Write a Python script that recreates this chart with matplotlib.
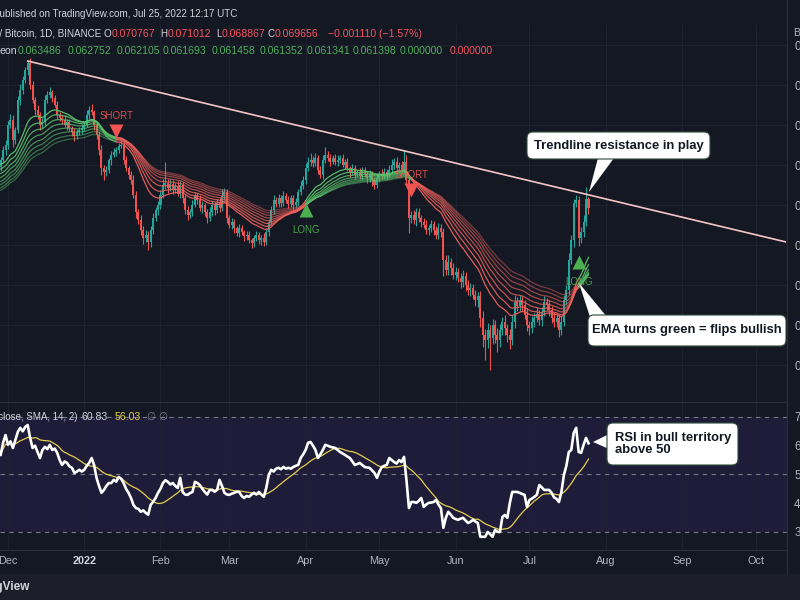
import matplotlib
matplotlib.use("Agg")
import matplotlib.pyplot as plt
import matplotlib.dates as mdates
from matplotlib.patches import FancyBboxPatch, Polygon, Rectangle
import numpy as np
import pandas as pd

plt.rcParams["font.family"] = ["Liberation Sans", "DejaVu Sans"]

# prices in mBTC, one daily candle per value starting FIRST_DAY
FIRST_DAY = "2021-11-28"
FIRST_OPEN = 74.8
CLOSES = [
    75.6, 76.9, 77.5, 80.0, 80.6, 78.1, 79.4, 83.1, 84.4, 85.6,
    86.9, 87.8, 85.0, 83.1, 81.9, 81.3, 80.0, 80.4, 83.1, 83.8,
    84.1, 83.4, 82.5, 81.3, 80.9, 80.6, 80.0, 80.4, 79.6, 79.1,
    78.6, 79.1, 79.4, 79.6, 80.0, 81.3, 81.9, 81.6, 80.0, 78.8,
    76.9, 74.6, 74.1, 74.4, 75.6, 76.3, 76.6, 76.9, 77.4, 77.5,
    75.6, 74.6, 73.8, 73.1, 71.3, 69.1, 68.1, 66.9, 65.9, 66.3,
    65.4, 66.9, 68.4, 69.4, 70.0, 71.3, 72.5, 72.8, 72.1, 72.6,
    71.9, 72.4, 71.4, 72.5, 70.9, 69.4, 68.8, 69.1, 70.0, 71.1,
    70.6, 69.6, 70.0, 69.1, 68.4, 69.1, 70.0, 69.4, 70.3, 69.6,
    71.1, 71.6, 68.4, 67.5, 67.9, 67.1, 66.5, 67.1, 66.6, 66.1,
    66.3, 65.6, 65.3, 65.9, 66.3, 65.6, 65.9, 65.4, 66.6, 67.9,
    69.4, 70.6, 70.1, 70.9, 70.3, 71.1, 70.6, 70.1, 70.9, 70.0,
    70.4, 71.6, 72.4, 73.1, 74.6, 75.4, 75.6, 75.3, 75.9, 74.4,
    73.8, 75.6, 76.3, 75.9, 75.4, 75.9, 75.4, 75.6, 75.9, 75.0,
    75.4, 74.6, 74.1, 74.6, 73.8, 74.1, 73.6, 74.4, 73.9, 73.4,
    73.9, 73.1, 72.5, 73.4, 73.9, 73.6, 74.1, 73.8, 74.4, 75.0,
    75.4, 74.6, 75.0, 74.4, 75.4, 73.1, 68.4, 68.8, 68.1, 69.1,
    68.4, 67.9, 67.5, 66.9, 67.1, 67.6, 66.9, 66.3, 67.1, 66.6,
    63.1, 61.9, 62.9, 62.1, 61.3, 61.6, 60.9, 60.4, 61.1, 60.0,
    59.4, 59.6, 58.8, 58.1, 58.6, 55.9, 53.8, 53.1, 54.4, 53.4,
    55.0, 53.8, 53.1, 54.4, 55.4, 54.6, 53.8, 53.1, 55.4, 57.9,
    57.4, 58.1, 57.5, 56.3, 55.0, 54.6, 55.4, 55.9, 56.4, 55.6,
    56.6, 57.9, 57.5, 56.9, 55.9, 55.4, 55.9, 54.4, 55.4, 58.1,
    59.4, 63.1, 65.6, 70.3, 70.6, 65.9, 66.6, 67.9, 70.8, 69.656,
]
UPPER_WICK = [
    0.4, 0.5, 0.6, 0.5, 0.8, 0.6, 0.4, 0.5, 0.7, 0.5,
    0.4, 0.2, 0.6, 0.5, 0.4, 0.6, 0.3, 0.5, 0.7, 0.4,
    0.6, 0.3, 0.4, 0.5, 0.3, 0.4, 0.6, 0.3, 0.4, 0.3,
    0.5, 0.4, 0.3, 0.5, 0.4, 0.6, 0.5, 0.7, 0.3, 0.4,
    0.5, 0.6, 0.4, 0.5, 0.3, 0.4, 0.5, 0.3, 0.4, 0.6,
    0.4, 0.5, 0.3, 0.4, 0.6, 0.5, 0.4, 0.7, 0.5, 0.6,
    0.4, 0.5, 0.6, 0.4, 0.5, 0.6, 0.8, 2.6, 0.5, 0.6,
    0.5, 0.4, 0.6, 0.5, 0.4, 0.3, 0.5, 0.4, 0.6, 0.5,
    0.4, 0.6, 0.5, 0.3, 0.4, 0.6, 0.5, 0.4, 0.5, 0.6,
    0.9, 0.5, 0.4, 0.3, 0.5, 0.4, 0.3, 0.5, 0.4, 0.3,
    0.4, 0.5, 0.3, 0.4, 0.5, 0.3, 0.4, 0.6, 0.5, 0.4,
    0.5, 0.6, 0.4, 0.5, 0.3, 0.6, 0.4, 0.5, 0.4, 0.3,
    0.5, 0.4, 0.6, 0.5, 0.7, 0.6, 0.9, 0.5, 0.6, 0.4,
    0.5, 0.7, 0.9, 0.4, 0.5, 0.4, 0.5, 0.6, 0.4, 0.5,
    0.4, 0.5, 0.3, 0.5, 0.4, 0.3, 0.5, 0.4, 0.3, 0.4,
    0.5, 0.4, 0.3, 0.5, 0.4, 0.6, 0.5, 0.4, 0.6, 0.7,
    0.5, 0.6, 0.4, 0.5, 1.5, 0.8, 0.6, 0.5, 0.6, 0.5,
    0.5, 0.4, 0.5, 0.6, 0.4, 0.5, 0.4, 0.5, 0.6, 0.5,
    0.5, 0.6, 0.8, 0.5, 0.6, 0.7, 0.5, 0.6, 0.8, 0.5,
    0.6, 0.7, 0.5, 0.6, 0.5, 0.6, 0.8, 0.7, 0.9, 0.6,
    0.7, 0.6, 0.8, 0.7, 0.6, 0.8, 0.5, 0.7, 0.9, 0.8,
    0.6, 0.7, 0.5, 0.6, 0.8, 0.5, 0.7, 0.6, 0.8, 0.5,
    0.6, 0.7, 0.5, 0.6, 0.5, 0.7, 0.6, 0.5, 0.8, 0.7,
    0.6, 0.9, 0.7, 0.5, 0.6, 0.5, 0.6, 0.8, 1.5, 0.21,
]
LOWER_WICK = [
    0.5, 0.4, 0.7, 0.5, 0.4, 0.9, 0.5, 0.4, 0.6, 0.5,
    0.4, 0.6, 0.5, 0.4, 0.7, 0.5, 0.6, 0.4, 0.5, 0.3,
    0.4, 0.5, 0.3, 0.6, 0.4, 0.5, 0.3, 0.6, 0.4, 0.5,
    0.6, 0.4, 0.3, 0.5, 0.4, 0.3, 0.5, 0.4, 0.6, 0.5,
    0.6, 0.8, 1.0, 0.5, 0.4, 0.6, 0.3, 0.5, 0.4, 0.3,
    0.5, 0.4, 0.6, 0.5, 0.4, 0.7, 0.5, 0.6, 0.8, 0.5,
    1.0, 0.6, 0.5, 0.4, 0.6, 0.5, 0.4, 0.5, 0.6, 0.4,
    0.5, 0.4, 0.3, 0.5, 0.6, 0.5, 0.7, 0.4, 0.5, 0.3,
    0.5, 0.4, 0.6, 0.5, 0.7, 0.4, 0.5, 0.6, 0.4, 0.5,
    0.4, 0.5, 0.6, 0.4, 0.5, 0.6, 0.4, 0.5, 0.3, 0.6,
    0.5, 0.4, 0.7, 0.6, 0.4, 0.5, 0.6, 0.5, 0.4, 0.5,
    0.4, 0.5, 0.3, 0.4, 0.5, 0.4, 0.3, 0.5, 0.4, 0.6,
    0.4, 0.5, 0.3, 0.4, 0.5, 0.4, 0.5, 0.6, 0.4, 0.5,
    0.4, 0.5, 0.3, 0.4, 0.5, 0.3, 0.4, 0.5, 0.4, 0.3,
    0.5, 0.4, 0.6, 0.4, 0.5, 0.3, 0.4, 0.5, 0.4, 0.6,
    0.5, 0.7, 0.5, 0.4, 0.5, 0.3, 0.4, 0.5, 0.3, 0.4,
    0.5, 0.4, 0.3, 0.5, 0.4, 0.5, 1.9, 0.6, 0.5, 0.7,
    0.5, 0.6, 0.4, 0.5, 0.6, 0.5, 0.7, 0.6, 0.5, 0.6,
    2.0, 0.7, 0.6, 0.8, 0.6, 0.7, 0.5, 0.8, 0.6, 0.7,
    0.6, 0.8, 0.6, 0.7, 0.9, 1.2, 1.5, 2.5, 1.0, 4.0,
    0.8, 1.0, 1.5, 0.9, 0.7, 0.8, 0.9, 1.1, 0.6, 0.8,
    0.7, 0.6, 0.8, 0.5, 0.7, 0.9, 0.6, 0.7, 0.5, 0.6,
    0.7, 0.5, 0.6, 0.8, 0.6, 0.7, 0.6, 0.9, 0.6, 0.5,
    0.6, 0.7, 0.5, 0.8, 0.6, 1.0, 0.7, 0.6, 0.5, 0.79,
]
RSI = [
    56.8, 61.0, 63.7, 60.3, 61.5, 59.2, 62.0, 64.8, 66.2, 65.0,
    66.5, 67.2, 62.7, 59.2, 60.0, 57.8, 55.7, 58.5, 59.6, 58.8,
    60.3, 58.5, 59.0, 57.5, 55.0, 53.3, 54.5, 54.0, 52.8, 52.3,
    50.5, 51.0, 51.6, 51.0, 51.6, 53.0, 54.0, 55.7, 53.3, 48.8,
    46.0, 43.6, 44.6, 46.0, 47.0, 47.0, 48.1, 47.5, 49.1, 48.5,
    47.0, 45.0, 43.6, 41.8, 39.4, 38.3, 38.0, 37.0, 37.5, 36.6,
    36.0, 39.4, 40.5, 41.8, 43.6, 45.0, 47.0, 48.0, 47.4, 46.5,
    47.0, 46.0, 45.3, 48.8, 43.9, 43.0, 42.9, 43.5, 43.9, 47.4,
    47.0, 46.3, 45.0, 43.9, 43.0, 44.6, 44.6, 44.0, 44.6, 48.1,
    46.0, 43.6, 43.0, 42.9, 43.3, 43.6, 44.0, 43.9, 42.5, 41.8,
    42.5, 42.2, 43.0, 43.6, 43.0, 43.9, 43.0, 42.2, 45.3, 49.8,
    51.6, 51.0, 52.0, 52.3, 51.8, 52.6, 52.0, 52.3, 52.0, 52.6,
    53.0, 53.3, 55.7, 57.0, 58.5, 61.0, 61.3, 60.0, 58.5, 55.7,
    57.0, 58.5, 60.3, 60.0, 59.6, 59.4, 59.2, 58.5, 57.8, 57.3,
    56.8, 56.2, 55.7, 54.5, 53.3, 53.6, 54.0, 53.3, 52.6, 52.4,
    52.3, 51.4, 50.5, 48.8, 51.0, 52.6, 53.0, 53.3, 55.7, 55.0,
    54.3, 53.8, 55.0, 54.3, 56.1, 48.0, 38.3, 40.4, 40.4, 40.1,
    40.8, 41.8, 38.7, 39.5, 40.1, 40.2, 40.4, 41.1, 39.5, 38.3,
    31.4, 34.9, 37.0, 36.0, 34.9, 34.5, 34.2, 34.6, 34.9, 34.0,
    33.1, 33.5, 34.2, 33.6, 33.1, 28.3, 28.3, 28.3, 30.0, 29.2,
    28.3, 30.7, 30.0, 30.0, 35.2, 35.9, 34.9, 40.0, 43.9, 43.9,
    43.9, 43.6, 43.2, 42.9, 38.7, 41.1, 41.6, 42.2, 42.9, 46.3,
    45.5, 44.6, 44.6, 44.6, 43.6, 42.0, 41.5, 40.4, 44.0, 49.8,
    53.0, 57.8, 58.5, 64.5, 66.2, 57.8, 57.5, 60.3, 62.7, 60.83,
]

EMA_PERIODS = [20, 25, 30, 35, 40, 45, 50, 55]
EMA_SEEDS = [75.0, 74.4, 73.8, 73.3, 72.8, 72.4, 72.0, 71.7]

SIGNAL_DATES = ["2022-01-14", "2022-04-01", "2022-05-14", "2022-07-21"]
SIGNAL_TYPES = ["SHORT", "LONG", "SHORT", "LONG"]
SIGNAL_PRICES = [79.2, 69.4, 71.9, 62.9]

TREND_DATES = ["2021-12-09", "2022-10-13"]
TREND_PRICES = [88.0, 65.4]

PRICE_TICKS = [50, 55, 60, 65, 70, 75, 80, 85, 90]
RSI_TICKS = [30, 40, 50, 60, 70]
MONTHS = ["2021-12-01", "2022-01-01", "2022-02-01", "2022-03-01", "2022-04-01",
          "2022-05-01", "2022-06-01", "2022-07-01", "2022-08-01", "2022-09-01",
          "2022-10-01"]
MONTH_LABELS = ["Dec", "2022", "Feb", "Mar", "Apr", "May", "Jun", "Jul", "Aug", "Sep", "Oct"]

OHLC_LABELS = ["O", "H", "L", "C"]
OHLC_VALUES = ["0.070767", "0.071012", "0.068867", "0.069656"]
RIBBON_VALUES = ["0.063486", "0.062752", "0.062105", "0.061693", "0.061458",
                 "0.061352", "0.061341", "0.061398", "0.000000", "0.000000"]

BG = "#141823"
GRID = "#1e2230"
TEXT = "#d1d4dc"
AXIS_TEXT = "#b2b5be"
UP = "#26a69a"
DOWN = "#ef5350"
GREEN = "#5cc46c"
RED = "#ee615b"
W, H = 800, 600


def px_rect(left, top, right, bottom):
    return [left / W, 1 - bottom / H, (right - left) / W, (bottom - top) / H]


def ema(values, period, seed):
    alpha = 2.0 / (period + 1)
    out, prev = [], seed
    for v in values:
        prev = prev + alpha * (v - prev)
        out.append(prev)
    return np.array(out)


def main() -> None:
    dates = pd.date_range(FIRST_DAY, periods=len(CLOSES), freq="D")
    x = mdates.date2num(dates)
    close = np.array(CLOSES) / 1000
    opens = np.concatenate([[FIRST_OPEN], CLOSES[:-1]]) / 1000
    highs = np.maximum(opens, close) + np.array(UPPER_WICK) / 1000
    lows = np.minimum(opens, close) - np.array(LOWER_WICK) / 1000
    up = close >= opens
    colors = np.where(up, UP, DOWN)

    fig = plt.figure(figsize=(8, 6), dpi=100, facecolor=BG)
    ax = fig.add_axes(px_rect(0, 25, 787, 402), facecolor=BG)
    ax_rsi = fig.add_axes(px_rect(0, 402, 787, 550), facecolor=BG, sharex=ax)

    start = mdates.date2num(pd.Timestamp("2021-12-01"))
    ax.set_xlim(start - 3.25, start + 316.7)
    ax.set_ylim(0.045375, 0.0925)
    ax_rsi.set_ylim(23.7, 75.2)

    month_x = mdates.date2num(pd.to_datetime(MONTHS))
    for a in (ax, ax_rsi):
        a.set_xticks(month_x)
        a.grid(True, color=GRID, lw=0.8)
        a.set_axisbelow(True)
        a.tick_params(length=0, colors=AXIS_TEXT, labelsize=7.8)
        a.yaxis.tick_right()
        for s in a.spines.values():
            s.set_visible(False)
    ax_rsi.grid(False, axis="y")
    ax.tick_params(axis="x", labelbottom=False)
    ax.set_yticks([v / 1000 for v in PRICE_TICKS])
    ax.set_yticklabels([f"{v / 1000:.3f}" for v in PRICE_TICKS])
    ax.tick_params(axis="y", pad=5.2, labelsize=8.3)
    ax_rsi.set_yticks(RSI_TICKS)
    ax_rsi.set_yticklabels([str(v) for v in RSI_TICKS])
    ax_rsi.tick_params(axis="y", pad=5.2, labelsize=8.3)
    ax_rsi.set_xticklabels(MONTH_LABELS)
    ax_rsi.tick_params(axis="x", pad=4.3)
    for lab in ax_rsi.get_xticklabels():
        if lab.get_text() == "2022":
            lab.set_fontweight("bold")
            lab.set_color(TEXT)

    # candles
    body = np.maximum(np.abs(close - opens), 0.00004)
    ax.vlines(x, lows, highs, colors=colors, lw=0.8, zorder=2)
    ax.bar(x, body, bottom=np.minimum(opens, close), width=0.82,
           color=colors, linewidth=0, zorder=3)

    # trendline
    ax.plot(mdates.date2num(pd.to_datetime(TREND_DATES)),
            [p / 1000 for p in TREND_PRICES], color="#f3c6c8", lw=1.2, zorder=4)

    # EMA ribbon, coloured by signal state
    sig_idx = [(pd.Timestamp(d) - dates[0]).days for d in SIGNAL_DATES]
    bounds = [0] + sig_idx + [len(x) - 1]
    states = [SIGNAL_TYPES[0] != "LONG"] + [t == "LONG" for t in SIGNAL_TYPES]
    for i, (period, seed) in enumerate(zip(EMA_PERIODS, EMA_SEEDS)):
        line = ema(CLOSES, period, seed) / 1000
        alpha = 0.95 - 0.07 * i
        for k in range(len(bounds) - 1):
            a, b = bounds[k], bounds[k + 1] + 1
            ax.plot(x[a:b], line[a:b], color=GREEN if states[k] else RED,
                    lw=0.9, alpha=alpha, zorder=5)

    # signals
    for d, t, p in zip(SIGNAL_DATES, SIGNAL_TYPES, SIGNAL_PRICES):
        xd = mdates.date2num(pd.Timestamp(d))
        col = "#4caf50" if t == "LONG" else "#f05350"
        ax.plot(xd, p / 1000, marker="^" if t == "LONG" else "v", ms=9.5,
                color=col, mec="none", zorder=6)
        off = -14.5 if t == "LONG" else 10.8
        ax.annotate(t, (xd, p / 1000), xytext=(0, off), textcoords="offset points",
                    ha="center", va="center", fontsize=7, color=col, alpha=0.9, zorder=6)

    # RSI pane
    ax_rsi.axhspan(30, 70, color="#1e1c38", lw=0, zorder=0)
    for lvl in (70, 50, 30):
        ax_rsi.axhline(lvl, color="#787b86", lw=0.8, dashes=(4, 4), zorder=1)
    rsi = pd.Series(RSI)
    ax_rsi.plot(x, rsi.rolling(14, min_periods=1).mean(), color="#e2cf4f", lw=0.9, zorder=3)
    ax_rsi.plot(x, rsi, color="white", lw=1.9, zorder=4, solid_joinstyle="round")

    # overlay in pixel coordinates for legends and callouts
    ov = fig.add_axes([0, 0, 1, 1])
    ov.set_xlim(0, W)
    ov.set_ylim(H, 0)
    ov.axis("off")
    ov.patch.set_alpha(0)

    ov.add_patch(Rectangle((0, 574), W, 26, color="#1b1e28", lw=0))
    ov.plot([0, 787], [402, 402], color="#2a2e39", lw=0.8)
    ov.plot([0, 787], [550, 550], color="#2a2e39", lw=0.8)
    ov.plot([787, 787], [0, 574], color="#2a2e39", lw=0.8)
    ov.text(30, 587, "TradingView", ha="right", va="center", fontsize=8.5,
            color=TEXT, fontweight="bold")
    ov.text(793, 33, "BTC", ha="left", va="center", fontsize=7.5, color=AXIS_TEXT)

    fs = 7.6
    ov.text(237, 14, "Published on TradingView.com, Jul 25, 2022 12:17 UTC",
            ha="right", va="center", fontsize=7.1, color=TEXT)
    ov.text(101, 34, "Ethereum / Bitcoin, 1D, BINANCE", ha="right", va="center",
            fontsize=7.1, color=TEXT)
    for vx, lab, val in zip([112, 168, 222, 275], OHLC_LABELS, OHLC_VALUES):
        ov.text(vx - 0.5, 34, lab, ha="right", va="center", fontsize=7.1, color=TEXT)
        ov.text(vx, 34, val, ha="left", va="center", fontsize=fs, color="#f7525f")
    ov.text(328, 34, "\u22120.001110 (\u22121.57%)", ha="left", va="center",
            fontsize=fs, color="#f7525f")
    ov.text(0, 51, "eon", ha="left", va="center", fontsize=fs, color=TEXT)
    for vx, val, col in zip([18, 68, 117, 163, 212, 260, 307, 353, 400, 450],
                            RIBBON_VALUES, ["#4fae5c"] * 9 + ["#f7525f"]):
        ov.text(vx, 51, val, ha="left", va="center", fontsize=fs, color=col)

    ov.text(77, 417, "RSI (14, close, SMA, 14, 2)", ha="right", va="center",
            fontsize=7.0, color=TEXT)
    ov.text(82, 417, "60.83", ha="left", va="center", fontsize=fs, color=TEXT)
    ov.text(115, 417, "56.03", ha="left", va="center", fontsize=fs, color="#e2cf4f")
    ov.text(147, 417, "\u2205 \u2205", ha="left", va="center", fontsize=fs, color="#787b86")

    # callouts
    callouts = [
        ((527, 132, 183, 27), [(598, 158), (614, 158), (589, 192)],
         (618.5, 145.5), "Trendline resistance in play", "center"),
        ((588, 315, 198, 31), [(590, 317), (607, 317), (579, 283)],
         (687, 330.5), "EMA turns green = flips bullish", "center"),
        ((607, 423, 131, 42), [(609, 434), (609, 449), (593, 442)],
         (615, 444), "RSI in bull territory\nabove 50", "left"),
    ]
    for (bx, by, bw, bh), tail, (tx, ty), txt, ha in callouts:
        ov.add_patch(Polygon(tail, closed=True, fc="white", ec="none"))
        ov.add_patch(FancyBboxPatch((bx, by), bw, bh,
                                    boxstyle="round,pad=0,rounding_size=6",
                                    fc="white", ec="#2f4a3a", lw=0.8))
        ov.text(tx, ty, txt, ha=ha, va="center", fontsize=9.4, fontweight="bold",
                color="#131722", linespacing=1.0)

    fig.savefig("out.png", dpi=100, facecolor=BG)
    plt.close(fig)


if __name__ == "__main__":
    main()
